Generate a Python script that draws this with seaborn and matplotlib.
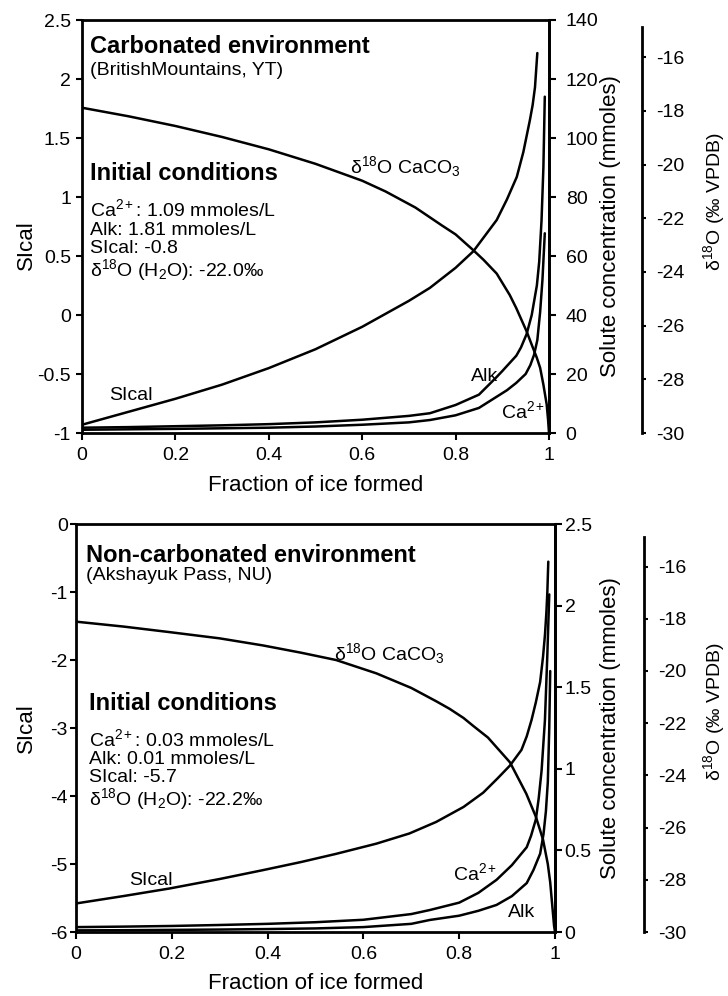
import matplotlib
matplotlib.use("Agg")
import matplotlib.pyplot as plt
import seaborn as sns
import pandas as pd

# ---------------- data ----------------
frac_ticks = [0, 0.2, 0.4, 0.6, 0.8, 1]
frac_tick_labels = ["0", "0.2", "0.4", "0.6", "0.8", "1"]

# Top panel: carbonated environment
top_si_x = [0, 0.1, 0.2, 0.3, 0.4, 0.5, 0.6, 0.7, 0.745, 0.8, 0.838, 0.888, 0.91, 0.931, 0.945, 0.959, 0.965, 0.970, 0.975]
top_si_y = [-0.93, -0.82, -0.71, -0.59, -0.45, -0.29, -0.10, 0.12, 0.23, 0.40, 0.54, 0.805, 0.98, 1.17, 1.38, 1.65, 1.78, 1.93, 2.22]
top_d18_x = [0, 0.1, 0.2, 0.3, 0.4, 0.5, 0.6, 0.65, 0.714, 0.771, 0.8, 0.838, 0.86, 0.888, 0.916, 0.93, 0.952, 0.965, 0.974, 0.981, 0.988, 0.995, 0.998, 1.0]
top_d18_y = [-17.88, -18.2, -18.56, -18.97, -19.43, -19.97, -20.6, -21.0, -21.6, -22.27, -22.6, -23.19, -23.55, -24.06, -24.86, -25.35, -26.21, -26.8, -27.2, -27.57, -28.2, -28.93, -29.5, -30.0]
top_alk_x = [0, 0.1, 0.2, 0.3, 0.4, 0.5, 0.6, 0.7, 0.745, 0.8, 0.85, 0.888, 0.9, 0.93, 0.94, 0.952, 0.963, 0.974, 0.979, 0.984, 0.988, 0.991]
top_alk_y = [1.8, 2.0, 2.3, 2.6, 3.0, 3.6, 4.5, 5.8, 6.7, 9.5, 13.0, 19.0, 21.0, 26.2, 29.0, 33.5, 40.0, 50.0, 58.0, 72.0, 90.0, 114.0]
top_ca_x = [0, 0.1, 0.2, 0.3, 0.4, 0.5, 0.6, 0.7, 0.745, 0.8, 0.85, 0.888, 0.91, 0.93, 0.95, 0.96, 0.968, 0.975, 0.981, 0.986, 0.991]
top_ca_y = [1.1, 1.25, 1.4, 1.6, 1.8, 2.2, 2.8, 3.6, 4.4, 6.0, 8.5, 12.3, 14.5, 17.0, 20.0, 23.0, 26.5, 31.5, 41.0, 52.0, 67.7]

top_si_ticks = [-1, -0.5, 0, 0.5, 1, 1.5, 2, 2.5]
top_si_labels = ["-1", "-0.5", "0", "0.5", "1", "1.5", "2", "2.5"]
top_sol_ticks = [0, 20, 40, 60, 80, 100, 120, 140]
top_sol_labels = ["0", "20", "40", "60", "80", "100", "120", "140"]

# Bottom panel: non-carbonated environment
bot_si_x = [0, 0.1, 0.195, 0.3, 0.39, 0.47, 0.543, 0.627, 0.696, 0.752, 0.809, 0.85, 0.88, 0.906, 0.93, 0.941, 0.951, 0.96, 0.969, 0.975, 0.979, 0.982, 0.984, 0.986]
bot_si_y = [-5.58, -5.47, -5.36, -5.22, -5.09, -4.97, -4.85, -4.70, -4.55, -4.38, -4.16, -3.95, -3.74, -3.55, -3.32, -3.12, -2.88, -2.62, -2.32, -1.95, -1.63, -1.30, -1.00, -0.55]
bot_d18_x = [0, 0.1, 0.195, 0.3, 0.39, 0.47, 0.543, 0.627, 0.7, 0.752, 0.78, 0.809, 0.829, 0.86, 0.906, 0.94, 0.960, 0.975, 0.985, 0.990, 0.998, 1.0]
bot_d18_y = [-18.11, -18.3, -18.51, -18.75, -19.02, -19.3, -19.58, -20.09, -20.65, -21.16, -21.45, -21.8, -22.1, -22.55, -23.5, -24.7, -25.58, -26.46, -27.4, -28.1, -29.75, -30.0]
bot_ca_x = [0, 0.1, 0.2, 0.3, 0.4, 0.5, 0.6, 0.7, 0.739, 0.8, 0.84, 0.878, 0.91, 0.941, 0.95, 0.960, 0.966, 0.972, 0.979, 0.984, 0.988]
bot_ca_y = [0.03, 0.033, 0.037, 0.043, 0.05, 0.06, 0.075, 0.11, 0.135, 0.18, 0.24, 0.32, 0.41, 0.52, 0.59, 0.69, 0.82, 0.99, 1.30, 1.70, 2.07]
bot_alk_x = [0, 0.1, 0.2, 0.3, 0.4, 0.5, 0.6, 0.7, 0.739, 0.8, 0.84, 0.878, 0.91, 0.941, 0.955, 0.969, 0.976, 0.981, 0.985, 0.988, 0.990]
bot_alk_y = [0.01, 0.011, 0.013, 0.015, 0.018, 0.022, 0.03, 0.05, 0.074, 0.10, 0.13, 0.166, 0.22, 0.30, 0.38, 0.48, 0.60, 0.74, 0.92, 1.25, 1.60]

bot_si_ticks = [-6, -5, -4, -3, -2, -1, 0]
bot_si_labels = ["-6", "-5", "-4", "-3", "-2", "-1", "0"]
bot_sol_ticks = [0, 0.5, 1, 1.5, 2, 2.5]
bot_sol_labels = ["0", "0.5", "1", "1.5", "2", "2.5"]

d18_ticks = [-30, -28, -26, -24, -22, -20, -18, -16]
d18_labels = ["-30", "-28", "-26", "-24", "-22", "-20", "-18", "-16"]

# ---------------- style ----------------
sns.set_style("ticks")
plt.rcParams["font.family"] = ["Liberation Sans", "DejaVu Sans"]
plt.rcParams["mathtext.fontset"] = "custom"
plt.rcParams["mathtext.rm"] = "Liberation Sans"
plt.rcParams["mathtext.it"] = "Liberation Sans:italic"
plt.rcParams["mathtext.bf"] = "Liberation Sans:bold"
plt.rcParams["axes.unicode_minus"] = False
for k in ("text.color", "axes.labelcolor", "xtick.color", "ytick.color", "axes.edgecolor"):
    plt.rcParams[k] = "black"

W, H = 728, 996
fig = plt.figure(figsize=(W / 100, H / 100), dpi=100)
fig.patch.set_facecolor("white")

LW = 1.8
TICK_FS = 14
LABEL_FS = 16


def line(ax, xs, ys):
    df = pd.DataFrame({"x": xs, "y": ys})
    sns.lineplot(data=df, x="x", y="y", ax=ax, color="black", linewidth=LW,
                 estimator=None, sort=False, legend=False)


def ftext(px, py, s, size=14, weight="normal"):
    fig.text(px / W, 1 - py / H, s, fontsize=size, fontweight=weight,
             ha="left", va="baseline", color="black")


def build_panel(rect, si_lim, si_ticks, si_labels, sol_lim, sol_ticks, sol_labels,
                d18_lim, d18_offset, d18_bounds, left_pad, sol_pad):
    L, B, Wd, Ht = rect
    ax = fig.add_axes([L / W, 1 - B / H, Wd / W, Ht / H])
    ax2 = ax.twinx()
    ax3 = ax.twinx()
    for a in (ax, ax2, ax3):
        a.set_facecolor("none")
    ax.set_ylim(*si_lim)
    ax2.set_ylim(*sol_lim)
    ax3.set_ylim(*d18_lim)

    for s in ax.spines.values():
        s.set_linewidth(2.0)
        s.set_visible(True)
        s.set_color("black")
    for a in (ax2, ax3):
        for s in a.spines.values():
            s.set_visible(False)
        a.spines["right"].set_visible(True)
        a.spines["right"].set_linewidth(2.0)
        a.spines["right"].set_color("black")
    ax3.spines["right"].set_position(("axes", d18_offset))
    ax3.spines["right"].set_bounds(*d18_bounds)

    ax.set_xticks(frac_ticks)
    ax.set_xticklabels(frac_tick_labels)
    ax.set_yticks(si_ticks)
    ax.set_yticklabels(si_labels)
    ax2.set_yticks(sol_ticks)
    ax2.set_yticklabels(sol_labels)
    ax3.set_yticks(d18_ticks)
    ax3.set_yticklabels(d18_labels)

    ax.tick_params(axis="x", direction="out", length=5, width=1.5, pad=5, labelsize=TICK_FS)
    ax.tick_params(axis="y", direction="out", length=4, width=1.5, pad=left_pad, labelsize=TICK_FS)
    ax2.tick_params(axis="y", direction="out", length=5, width=1.5, pad=sol_pad, labelsize=TICK_FS)
    ax3.tick_params(axis="y", direction="out", length=3, width=1.5, pad=7, labelsize=TICK_FS)
    return ax, ax2, ax3


def finish_labels(ax, ax2, ax3, silab_x, ylab_y, sollab_x, d18lab_x, d18lab_y, xlab_y):
    for a in (ax, ax2, ax3):
        a.set_xlim(0, 1)
    ax.set_xlabel("Fraction of ice formed", fontsize=LABEL_FS)
    ax.xaxis.set_label_coords(0.5, xlab_y)
    ax2.set_xlabel("")
    ax3.set_xlabel("")
    ax.set_ylabel("SIcal", fontsize=LABEL_FS)
    ax.yaxis.set_label_coords(silab_x, ylab_y)
    ax2.set_ylabel("Solute concentration (mmoles)", fontsize=LABEL_FS)
    ax2.yaxis.set_label_coords(sollab_x, 0.5)
    ax3.set_ylabel("δ$^{18}$O (‰ VPDB)", fontsize=14)
    ax3.yaxis.set_label_coords(d18lab_x, d18lab_y)


# ---------------- top panel ----------------
t_ax, t_ax2, t_ax3 = build_panel(
    rect=(82, 433, 467, 413),
    si_lim=(-1, 2.5), si_ticks=top_si_ticks, si_labels=top_si_labels,
    sol_lim=(0, 140), sol_ticks=top_sol_ticks, sol_labels=top_sol_labels,
    d18_lim=(-29.907, -14.611), d18_offset=(642 - 82) / 467, d18_bounds=(-30, -14.86),
    left_pad=4, sol_pad=7)

line(t_ax, top_si_x, top_si_y)
line(t_ax3, top_d18_x, top_d18_y)
line(t_ax2, top_alk_x, top_alk_y)
line(t_ax2, top_ca_x, top_ca_y)
finish_labels(t_ax, t_ax2, t_ax3, silab_x=(37 - 82) / 467, ylab_y=0.455,
              sollab_x=(600 - 82) / 467, d18lab_x=(701 - 82) / 467, d18lab_y=0.56,
              xlab_y=(433 - 475) / 413)

ftext(90, 53.3, "Carbonated environment", 17, "bold")
ftext(90, 75, "(BritishMountains, YT)", 14)
ftext(90, 180, "Initial conditions", 17, "bold")
ftext(90, 216, "Ca$^{2+}$: 1.09 mmoles/L", 14)
ftext(90, 235, "Alk: 1.81 mmoles/L", 14)
ftext(90, 253, "SIcal: -0.8", 14)
ftext(90, 276, "δ$^{18}$O (H$_2$O): -22.0‰", 14)
ftext(350, 173, "δ$^{18}$O CaCO$_3$", 14)
ftext(108.7, 400, "SIcal", 14)
ftext(470.7, 380.7, "Alk", 14)
ftext(500.7, 418.3, "Ca$^{2+}$", 14)

# ---------------- bottom panel ----------------
b_ax, b_ax2, b_ax3 = build_panel(
    rect=(76, 932, 479, 407.7),
    si_lim=(-6, 0), si_ticks=bot_si_ticks, si_labels=bot_si_labels,
    sol_lim=(0, 2.5), sol_ticks=bot_sol_ticks, sol_labels=bot_sol_labels,
    d18_lim=(-29.82, -14.38), d18_offset=(644.3 - 76) / 479, d18_bounds=(-30, -14.85),
    left_pad=2, sol_pad=2)

line(b_ax, bot_si_x, bot_si_y)
line(b_ax3, bot_d18_x, bot_d18_y)
line(b_ax2, bot_ca_x, bot_ca_y)
line(b_ax2, bot_alk_x, bot_alk_y)
finish_labels(b_ax, b_ax2, b_ax3, silab_x=(37 - 76) / 479, ylab_y=0.5,
              sollab_x=(600 - 76) / 479, d18lab_x=(701 - 76) / 479, d18lab_y=0.54,
              xlab_y=(932 - 973) / 407.7)

ftext(86, 561.7, "Non-carbonated environment", 17, "bold")
ftext(86, 580, "(Akshayuk Pass, NU)", 14)
ftext(89, 710, "Initial conditions", 17, "bold")
ftext(89, 746, "Ca$^{2+}$: 0.03 mmoles/L", 14)
ftext(89, 764, "Alk: 0.01 mmoles/L", 14)
ftext(89, 782, "SIcal: -5.7", 14)
ftext(89, 805, "δ$^{18}$O (H$_2$O): -22.2‰", 14)
ftext(334.3, 660, "δ$^{18}$O CaCO$_3$", 14)
ftext(129.3, 885, "SIcal", 14)
ftext(453, 880, "Ca$^{2+}$", 14)
ftext(508, 916.7, "Alk", 14)

fig.savefig("out.png", dpi=100, facecolor="white")
